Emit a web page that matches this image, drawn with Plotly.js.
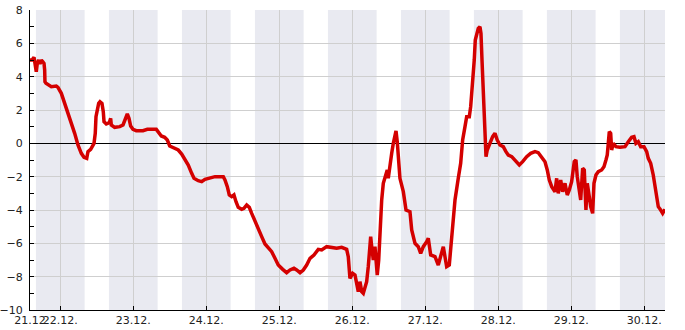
<!DOCTYPE html>
<html>
<head>
<meta charset="utf-8">
<script src="https://cdn.plot.ly/plotly-3.0.1.min.js"></script>
<style>
html,body{margin:0;padding:0;background:#fff;}
#chart{width:685px;height:330px;}
</style>
</head>
<body>
<div id="chart"></div>
<script>
// Time as fractional day of December, temperature in °C
const days = [
21.585,21.612,21.640,21.658,21.671,21.685,21.704,21.722,21.740,21.759,21.777,21.786,21.790,21.804,21.832,21.877,21.945,21.968,
22.014,22.060,22.105,22.151,22.197,22.242,22.288,22.325,22.362,22.379,22.416,22.462,22.479,22.489,22.507,22.526,22.544,22.571,
22.589,22.599,22.630,22.671,22.690,22.699,22.745,22.814,22.859,22.890,22.918,22.941,22.964,22.996,
23.041,23.133,23.192,23.315,23.348,23.384,23.430,23.466,23.499,23.548,23.616,23.663,23.708,23.753,23.800,23.832,23.890,23.937,23.982,
24.051,24.119,24.233,24.256,24.288,24.315,24.348,24.379,24.407,24.438,24.485,24.516,24.553,24.589,24.622,24.667,24.712,24.759,24.804,24.849,24.896,24.941,24.986,
25.047,25.101,25.147,25.201,25.238,25.284,25.329,25.375,25.421,25.475,25.534,25.581,25.649,25.718,25.786,25.855,25.923,25.945,25.959,25.968,
26.005,26.037,26.060,26.082,26.105,26.129,26.151,26.174,26.197,26.219,26.233,26.252,26.266,26.288,26.311,26.325,26.342,26.362,26.379,26.393,26.403,26.425,26.448,26.479,26.493,26.516,26.540,26.562,26.585,26.599,26.616,26.630,26.653,26.699,26.736,26.790,26.814,26.859,26.904,26.937,26.973,
27.019,27.041,27.074,27.133,27.178,27.225,27.247,27.270,27.293,27.329,27.348,27.375,27.407,27.452,27.485,27.512,27.530,27.544,27.567,27.603,27.622,27.649,27.671,27.685,27.704,27.726,27.749,27.763,27.777,27.790,27.804,27.818,27.832,27.849,27.886,27.923,27.955,27.986,
28.023,28.068,28.105,28.137,28.184,28.229,28.288,28.334,28.389,28.444,28.503,28.548,28.595,28.640,28.671,28.699,28.732,28.777,28.800,28.822,28.855,28.882,28.914,28.945,28.973,
29.005,29.041,29.064,29.082,29.110,29.129,29.156,29.178,29.201,29.219,29.247,29.266,29.293,29.311,29.338,29.370,29.416,29.448,29.475,29.493,29.507,29.521,29.540,29.553,29.575,29.612,29.667,29.736,29.781,29.827,29.859,29.886,29.918,29.951,29.996,
30.033,30.055,30.088,30.123,30.147,30.170,30.192,30.225,30.252,30.284
];
const temps = [
5.0,5.0,5.16,4.4,4.3,4.8,5.0,4.76,5.0,4.9,4.8,4.4,3.7,3.6,3.5,3.4,3.44,3.36,
3.0,2.4,1.9,1.2,0.6,-0.1,-0.6,-0.84,-0.9,-0.5,-0.36,0,0.6,1.6,2.0,2.4,2.5,2.4,
1.9,1.3,1.16,1.24,1.5,1.1,0.96,1.0,1.1,1.4,1.76,1.5,1.04,0.84,
0.76,0.76,0.84,0.84,0.6,0.44,0.36,0.2,-0.16,-0.24,-0.4,-0.64,-1.0,-1.3,-1.8,-2.1,-2.24,-2.3,-2.16,
-2.1,-2.0,-2.0,-2.2,-2.6,-3.1,-3.2,-3.1,-3.5,-3.84,-3.96,-3.9,-3.7,-3.84,-4.2,-4.7,-5.1,-5.6,-6.04,-6.24,-6.5,-6.9,-7.3,
-7.56,-7.76,-7.6,-7.5,-7.6,-7.76,-7.6,-7.3,-6.9,-6.7,-6.36,-6.4,-6.2,-6.24,-6.3,-6.24,-6.36,-6.8,-7.6,-8.1,
-7.8,-7.9,-8.4,-8.9,-8.3,-8.9,-9.0,-8.7,-8.3,-7.4,-6.8,-5.6,-6.2,-7.0,-6.2,-7.2,-7.9,-7.0,-5.4,-4.6,-3.4,-2.4,-2.0,-1.6,-2.1,-1.2,-0.6,0,0.5,0.75,0.1,-0.6,-2.1,-2.9,-4.0,-4.1,-5.2,-6.0,-6.2,-6.6,-6.2,
-5.9,-5.7,-6.7,-6.8,-7.3,-6.5,-6.2,-6.8,-7.4,-7.3,-6.2,-4.6,-3.4,-2.1,-1.2,0.2,0.8,1.0,1.6,1.6,2.2,3.6,5.0,6.2,6.6,6.9,7.0,6.6,5.0,3.4,2.0,0.2,-0.8,-0.4,0,0.4,0.6,0.2,
-0.1,-0.2,-0.5,-0.7,-0.8,-1.0,-1.3,-1.1,-0.8,-0.6,-0.5,-0.56,-0.8,-1.1,-1.6,-2.2,-2.6,-2.9,-2.1,-3.0,-2.2,-2.9,-2.4,-3.1,-2.8,
-2.3,-1.1,-1.0,-2.0,-3.0,-3.4,-1.5,-1.6,-4.0,-2.4,-3.2,-3.8,-4.2,-2.4,-1.9,-1.7,-1.6,-1.4,-1.0,-0.7,0,0.7,0.6,-0.4,0,-0.2,-0.24,-0.2,0.1,0.36,0.4,0,0.1,-0.2,-0.2,
-0.5,-0.9,-1.2,-1.9,-2.5,-3.2,-3.8,-4.0,-4.2,-3.96
];
const tickDays = [21.585,22,23,24,25,26,27,28,29,30];
const tickLabels = ['21.12','22.12.','23.12.','24.12.','25.12.','26.12.','27.12.','28.12.','29.12.','30.12.'];
const nightCentres = [22,23,24,25,26,27,28,29,30];
const xRange = [21.585, 30.284];
const yRange = [-10, 8];

const shapes = nightCentres.map(d => ({
  type:'rect', xref:'x', yref:'paper', layer:'between',
  x0: Math.max(d - 1/3, xRange[0]), x1: Math.min(d + 1/3, xRange[1]), y0:0, y1:1,
  fillcolor:'rgba(218,220,232,0.6)', line:{width:0}
}));

const trace = {
  x: days, y: temps, type:'scatter', mode:'lines',
  line:{color:'#d40000', width:3.5}, hoverinfo:'skip'
};

const font = {family:'DejaVu Sans, sans-serif', size:11, color:'#222'};

const layout = {
  width:685, height:330,
  margin:{l:30, r:20, t:10, b:20, pad:0},
  paper_bgcolor:'#fff', plot_bgcolor:'#fff',
  showlegend:false,
  font: font,
  shapes: shapes,
  xaxis:{
    range:xRange, tickmode:'array', tickvals:tickDays, ticktext:tickLabels,
    tickangle:0,
    showgrid:true, gridcolor:'#cfcfcf', gridwidth:1,
    zeroline:false, showline:true, linecolor:'#000', linewidth:1,
    ticks:'inside', ticklen:4, tickcolor:'#000', tickfont:font,
    fixedrange:true
  },
  yaxis:{
    range:yRange, dtick:2, tick0:0,
    showgrid:true, gridcolor:'#cfcfcf', gridwidth:1,
    zeroline:true, zerolinecolor:'#000', zerolinewidth:1,
    showline:true, linecolor:'#000', linewidth:1,
    ticks:'inside', ticklen:4, tickcolor:'#000', tickfont:font,
    ticklabelstandoff:4,
    minor:{dtick:1, tick0:0, ticks:'inside', ticklen:4, tickcolor:'#000', showgrid:false},
    fixedrange:true
  }
};

Plotly.newPlot('chart', [trace], layout, {displayModeBar:false, staticPlot:true});
</script>
</body>
</html>
